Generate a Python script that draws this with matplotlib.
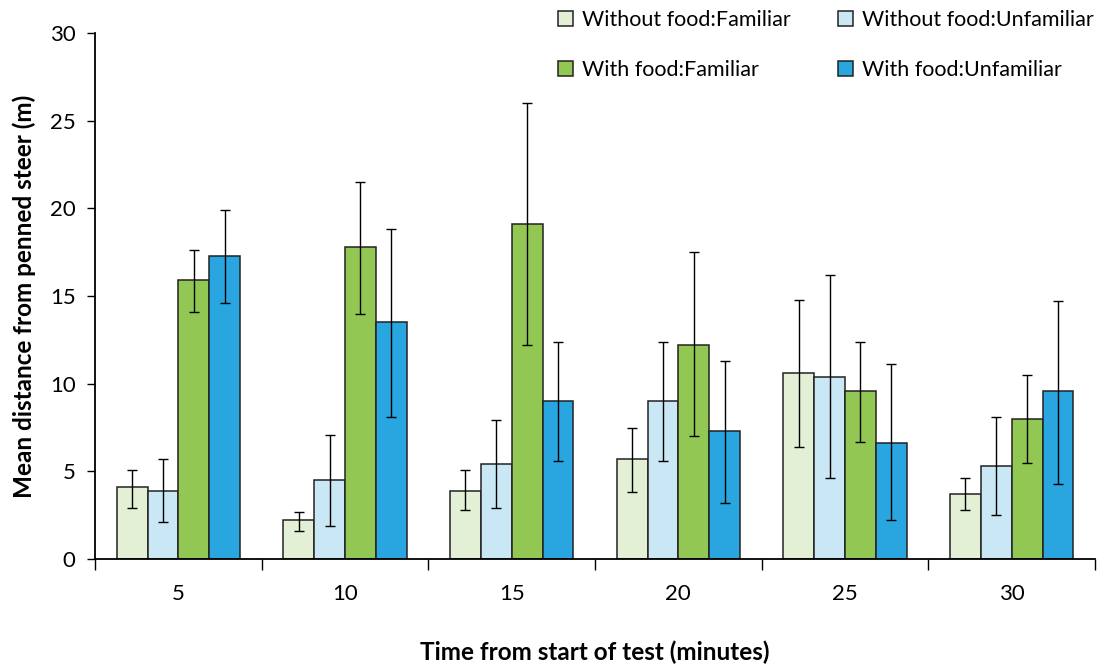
import matplotlib.pyplot as plt
import numpy as np

plt.rcParams['font.family'] = ['Lato', 'DejaVu Sans']

# data
times = ['5', '10', '15', '20', '25', '30']
series = ['Without food:Familiar', 'Without food:Unfamiliar',
          'With food:Familiar', 'With food:Unfamiliar']
means = [
    [4.1, 2.2, 3.9, 5.7, 10.6, 3.7],
    [3.9, 4.5, 5.4, 9.0, 10.4, 5.3],
    [15.9, 17.8, 19.1, 12.2, 9.6, 8.0],
    [17.3, 13.5, 9.0, 7.3, 6.6, 9.6],
]
err_lo = [
    [2.9, 1.6, 2.8, 3.8, 6.4, 2.8],
    [2.1, 1.9, 2.9, 5.6, 4.6, 2.5],
    [14.1, 14.0, 12.2, 7.0, 6.7, 5.5],
    [14.6, 8.1, 5.6, 3.2, 2.2, 4.3],
]
err_hi = [
    [5.1, 2.7, 5.1, 7.5, 14.8, 4.6],
    [5.7, 7.1, 7.9, 12.4, 16.2, 8.1],
    [17.6, 21.5, 26.0, 17.5, 12.4, 10.5],
    [19.9, 18.8, 12.4, 11.3, 11.1, 14.7],
]
colors = ['#E4F0D6', '#CAE7F5', '#92C754', '#29A5E0']

fig = plt.figure(figsize=(11.1, 6.71), dpi=100)
ax = fig.add_axes([0.0856, 0.1669, 0.9009, 0.7839])

x = np.arange(len(times))
w = 0.185
handles = []
for i, name in enumerate(series):
    pos = x + (i - 1.5) * w
    m = np.array(means[i])
    yerr = [m - np.array(err_lo[i]), np.array(err_hi[i]) - m]
    b = ax.bar(pos, m, w, color=colors[i], edgecolor='#222222', linewidth=1.1,
               label=name, zorder=2)
    handles.append(b)
    ax.errorbar(pos, m, yerr=yerr, fmt='none', ecolor='black', elinewidth=1,
                capsize=3.5, capthick=1, zorder=3)

ax.set_xlim(-0.5, len(times) - 0.5)
ax.set_ylim(0, 30)
ax.set_yticks(range(0, 31, 5))
ax.set_xticks(np.arange(len(times) + 1) - 0.5)
ax.set_xticklabels([])
ax.set_xticks(x, minor=True)
ax.set_xticklabels(times, minor=True)
ax.tick_params(axis='x', which='major', direction='out', length=8, width=1)
ax.tick_params(axis='x', which='minor', length=0, pad=18, labelsize=16)
ax.tick_params(axis='y', direction='out', length=6, width=1, labelsize=16,
               pad=8)

for s in ['top', 'right']:
    ax.spines[s].set_visible(False)
for s in ['left', 'bottom']:
    ax.spines[s].set_linewidth(1.3)

ax.set_ylabel('Mean distance from penned steer (m)', fontsize=17.5,
              fontweight='bold', labelpad=10)
ax.set_xlabel('Time from start of test (minutes)', fontsize=17.5,
              fontweight='bold')
ax.xaxis.set_label_coords(0.5, -0.155)

# row-major legend order
order = [0, 2, 1, 3]
ax.legend([handles[k] for k in order], [series[k] for k in order],
          ncol=2, loc='upper right', bbox_to_anchor=(1.018, 1.08),
          frameon=False, fontsize=15.5, handlelength=0.7, handleheight=0.7,
          handletextpad=0.4, labelspacing=1.4, columnspacing=2.2)

fig.savefig('out.png', dpi=100)
